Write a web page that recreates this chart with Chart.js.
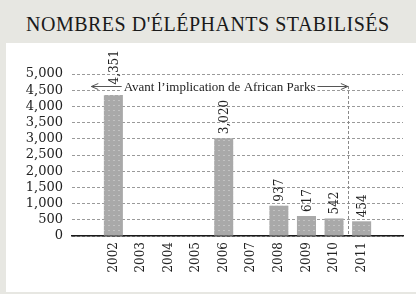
<!DOCTYPE html>
<html>
<head>
<meta charset="utf-8">
<script src="https://cdn.jsdelivr.net/npm/chart.js@4.4.1/dist/chart.umd.min.js"></script>
<style>
  html, body { margin: 0; padding: 0; }
  body { width: 416px; height: 294px; background: #e7e7e2; position: relative; overflow: hidden; }
  #title {
    position: absolute; left: 26px; top: 13px;
    font-family: "Liberation Serif", serif; font-size: 20px; letter-spacing: 0.5px;
    color: #1a1a1a; white-space: nowrap;
  }
  #panel { position: absolute; left: 6px; top: 43px; width: 410px; height: 249px; background: #fff; }
  canvas { position: absolute; left: 0; top: 0; }
</style>
</head>
<body>
<div id="title">NOMBRES D'ÉLÉPHANTS STABILISÉS</div>
<div id="panel"><canvas id="chart" width="410" height="249"></canvas></div>
<script>
// years, with an empty slot on each side like the original
const years = ["", "2002", "2003", "2004", "2005", "2006", "2007", "2008", "2009", "2010", "2011", ""];
const elephants = [null, 4351, null, null, null, 3020, null, 937, 617, 542, 454, null];
const yTicks = [0, 500, 1000, 1500, 2000, 2500, 3000, 3500, 4000, 4500, 5000];
const noteText = "Avant l\u2019implication de African Parks";
const noteLevel = 4630;   // height of the arrow, in elephants
const noteFrom = 0.2;     // category index where the left arrow ends
const noteTo = 9.5;       // between 2010 and 2011

const fmt = v => v.toLocaleString("en-US");

function dotPattern() {
  const c = document.createElement("canvas");
  c.width = 5; c.height = 5;
  const g = c.getContext("2d");
  g.fillStyle = "#a9a9a9";
  g.fillRect(0, 0, 5, 5);
  g.fillStyle = "#c2c2c2";
  g.fillRect(2, 2, 2, 1);
  return g.createPattern(c, "repeat");
}

function arrowHead(ctx, x, y, dir) {
  ctx.beginPath();
  ctx.moveTo(x - dir * 7, y - 3);
  ctx.lineTo(x, y);
  ctx.lineTo(x - dir * 7, y + 3);
  ctx.stroke();
}

const notePlugin = {
  id: "note",
  beforeDatasetsDraw(chart) {
    const { ctx, scales: { x, y }, chartArea } = chart;
    const xr = x.getPixelForValue(noteTo);
    const yy = y.getPixelForValue(noteLevel);
    ctx.save();
    ctx.strokeStyle = "#888";
    ctx.lineWidth = 1;
    ctx.setLineDash([3, 2]);
    ctx.beginPath();
    ctx.moveTo(Math.round(xr) + 0.5, yy);
    ctx.lineTo(Math.round(xr) + 0.5, chartArea.bottom);
    ctx.stroke();
    ctx.restore();
  },
  afterDatasetsDraw(chart) {
    const { ctx, scales: { x, y } } = chart;
    const xl = x.getPixelForValue(noteFrom);
    const xr = x.getPixelForValue(noteTo);
    const yy = Math.round(y.getPixelForValue(noteLevel)) + 0.5;
    ctx.save();
    ctx.font = "13px 'Liberation Serif', serif";
    const w = ctx.measureText(noteText).width;
    const mid = (xl + xr) / 2;
    ctx.fillStyle = "#fff";
    ctx.fillRect(mid - w / 2 - 2, yy - 8, w + 4, 13);
    ctx.fillStyle = "#222";
    ctx.textAlign = "center";
    ctx.textBaseline = "middle";
    ctx.fillText(noteText, mid, yy + 1);
    ctx.strokeStyle = "#555";
    ctx.lineWidth = 1;
    ctx.beginPath();
    ctx.moveTo(mid - w / 2 - 2, yy); ctx.lineTo(xl, yy);
    ctx.moveTo(mid + w / 2 + 2, yy); ctx.lineTo(xr, yy);
    ctx.stroke();
    arrowHead(ctx, xl, yy, -1);
    arrowHead(ctx, xr, yy, 1);

    // value labels, rotated, above each bar
    ctx.font = "12px 'DejaVu Serif', serif";
    ctx.textAlign = "left";
    ctx.textBaseline = "middle";
    ctx.fillStyle = "#222";
    chart.getDatasetMeta(0).data.forEach((bar, i) => {
      const v = elephants[i];
      if (!v) return;
      const t = fmt(v);
      const len = ctx.measureText(t).width;
      let bottom = bar.y - 4;
      if (bottom > yy && bottom - len < yy) bottom = yy - 2; // keep clear of the arrow
      ctx.save();
      ctx.translate(bar.x + 1, bottom);
      ctx.rotate(-Math.PI / 2);
      ctx.fillText(t, 0, 0);
      ctx.restore();
    });
    ctx.restore();
  }
};

new Chart(document.getElementById("chart"), {
  type: "bar",
  data: {
    labels: years,
    datasets: [{
      data: elephants,
      backgroundColor: dotPattern(),
      barPercentage: 0.69,
      categoryPercentage: 1
    }]
  },
  options: {
    responsive: false,
    animation: false,
    devicePixelRatio: 1,
    layout: { padding: { top: 31, right: 13, bottom: 0, left: 0 } },
    plugins: { legend: { display: false }, tooltip: { enabled: false } },
    scales: {
      x: {
        grid: { display: false, drawTicks: false },
        border: { display: true, color: "#1a1a1a", width: 1.5 },
        ticks: {
          autoSkip: false, minRotation: 90, maxRotation: 90, padding: 6,
          color: "#222", font: { family: "'DejaVu Serif', serif", size: 12 }
        },
        afterFit: s => { s.height = 56; }
      },
      y: {
        min: 0, max: 5000,
        afterBuildTicks: s => { s.ticks = yTicks.map(v => ({ value: v })); },
        grid: { color: "#9a9a9a", lineWidth: 1, drawTicks: false },
        border: { display: false, dash: [3, 2] },
        ticks: {
          autoSkip: false, padding: 9, color: "#222",
          font: { family: "'DejaVu Serif', serif", size: 13 },
          callback: v => fmt(v)
        },
        afterFit: s => { s.width = 66; }
      }
    }
  },
  plugins: [notePlugin]
});
</script>
</body>
</html>
